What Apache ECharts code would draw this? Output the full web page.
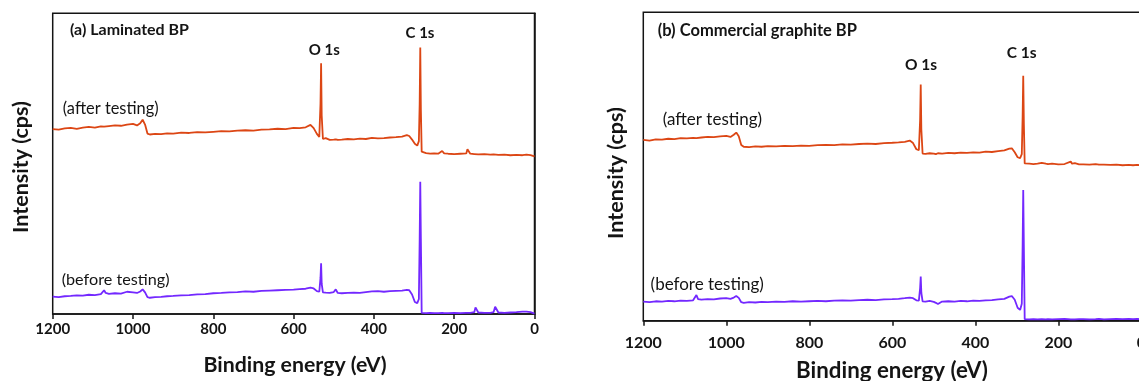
<!DOCTYPE html>
<html><head><meta charset="utf-8">
<script src="https://cdn.jsdelivr.net/npm/echarts@6/dist/echarts.min.js"></script>
<style>html,body{margin:0;padding:0;overflow:hidden;background:#fff}#c{width:1160px;height:395px}</style>
</head><body><div id="c"></div>
<script>
// Binding energy grid (eV), shared by all four spectra
const energy = [1200,1185,1170,1155,1140,1125,1110,1095,1080,1072,1068,1060,1045,1030,1015,1000,990,982,976,970,964,958,945,930,915,900,880,860,840,820,800,780,760,740,720,700,680,660,640,620,600,585,570,558,550,542,536,533,531.5,530,527,520,510,500,495,490,480,465,450,435,420,405,390,375,360,345,330,318,312,305,298,292,288,286,284.5,283,281,278,270,260,250,240,230,225,215,200,185,170,167,160,150,147,140,125,110,102,98,90,75,60,45,30,20,10,0];

// (a) Laminated BP — intensity (arbitrary, stacked offsets)
const aAfter = [61.5,61.3,61.7,61.9,61.6,62.0,62.2,62.0,62.4,62.3,62.6,62.5,62.7,62.6,63.0,63.2,62.7,63.4,64.6,63.0,60.0,59.7,59.9,59.8,60.1,60.0,60.3,60.2,60.5,60.4,60.6,60.8,60.7,61.0,61.1,61.0,61.3,61.4,61.6,61.5,61.9,61.8,62.1,62.9,61.8,59.9,58.9,70.0,83.4,66.0,58.2,58.5,57.9,58.0,58.1,57.9,58.0,58.2,58.1,58.3,58.2,58.6,58.4,58.5,58.7,58.8,59.0,59.5,59.2,58.0,56.6,56.0,57.5,70.0,88.6,68.0,54.0,53.4,53.5,53.3,53.4,53.3,54.2,53.4,53.3,53.2,53.3,53.4,54.8,53.3,53.2,53.3,53.1,53.2,53.0,53.1,53.0,52.9,53.0,52.8,52.9,52.8,53.0,52.8,52.4];
const aBefore = [5.8,5.6,5.9,6.0,6.2,6.1,6.4,6.3,6.6,7.9,7.0,6.7,6.9,6.8,7.4,7.2,7.0,7.5,8.2,7.2,5.6,5.4,5.6,5.7,5.9,6.0,6.2,6.3,6.5,6.6,6.9,7.0,7.2,7.3,7.5,7.4,7.7,7.8,7.9,8.0,8.1,8.3,8.4,8.8,8.5,7.6,7.4,12.0,16.9,10.0,7.2,7.1,7.0,7.3,8.2,7.0,6.9,7.0,7.1,7.0,7.3,7.5,7.6,7.4,7.6,7.7,7.8,8.0,7.9,6.5,4.0,3.6,5.0,25.0,44.0,25.0,0.4,0.3,0.3,0.4,0.3,0.3,0.4,0.3,0.3,0.4,0.3,0.4,0.3,0.4,0.6,2.2,0.5,0.4,0.4,0.6,2.4,0.5,0.4,0.5,0.6,0.8,0.8,0.6,0.1];

// (b) Commercial graphite BP
const bAfter = [58.6,58.4,58.8,58.7,59.0,58.9,59.2,59.1,59.3,59.2,59.5,59.4,59.6,59.5,59.8,59.9,59.6,60.3,61.0,59.8,57.0,56.4,56.3,56.5,56.4,56.6,56.5,56.7,56.6,56.8,56.7,56.9,57.0,56.9,57.2,57.1,57.3,57.4,57.3,57.6,57.7,57.8,58.0,58.4,57.6,55.6,55.3,65.0,76.6,62.0,54.2,54.1,54.3,54.2,54.0,54.3,54.2,54.4,54.3,54.5,54.4,54.6,54.5,54.8,54.7,55.0,55.2,55.8,55.9,54.6,53.0,52.7,54.0,66.0,79.4,64.0,51.0,50.8,50.9,50.8,50.9,51.2,50.9,50.8,50.9,50.7,50.8,51.6,50.9,51.1,50.7,50.8,50.7,50.6,50.8,50.6,50.5,50.6,50.5,50.6,50.4,50.5,50.4,50.5,50.4];
const bBefore = [6.2,6.0,6.3,6.2,6.4,6.3,6.5,6.4,6.6,8.3,7.0,6.8,7.0,6.9,7.2,7.3,7.1,7.5,8.0,7.4,6.0,5.8,6.0,5.9,6.1,6.0,6.2,6.1,6.3,6.2,6.3,6.4,6.3,6.5,6.6,6.5,6.7,6.8,6.7,6.9,7.0,7.1,7.3,7.5,7.3,6.6,6.5,10.5,14.3,9.0,6.3,6.2,6.4,6.1,5.8,5.4,6.2,6.3,6.2,6.4,6.3,6.5,6.4,6.6,6.7,6.9,7.1,7.8,8.0,6.8,4.2,3.5,5.5,24.0,42.4,24.0,0.5,0.4,0.4,0.5,0.4,0.5,0.4,0.5,0.4,0.5,0.6,0.4,0.5,0.4,0.5,0.4,0.5,0.4,0.5,0.6,0.5,0.4,0.5,0.6,0.5,0.6,0.5,0.6,0.5];

const xTickStep = 200;
const RED = '#dc4614', PURPLE = '#7328ff', INK = '#141414';
const FONT = 'Lato, "Open Sans", sans-serif';

const pairs = v => energy.map((e, i) => [e, v[i]]);

function xAxisCfg(idx, fs, margin) {
  return {
    type: 'value', gridIndex: idx, min: 0, max: 1200, interval: xTickStep, inverse: true,
    axisLine: { show: true, onZero: false, lineStyle: { color: INK, width: 1.5 } },
    axisTick: { show: true, inside: false, length: 5, lineStyle: { color: INK, width: 1.5 } },
    axisLabel: { color: INK, fontWeight: 'bold', fontSize: fs, fontFamily: FONT, margin: margin,
      formatter: v => String(v) },
    splitLine: { show: false }
  };
}
function yAxisCfg(idx) {
  return {
    type: 'value', gridIndex: idx, min: 0, max: 100,
    axisLine: { show: true, lineStyle: { color: INK, width: 1.5 } },
    axisTick: { show: false }, axisLabel: { show: false }, splitLine: { show: false }
  };
}
function line(v, color, idx) {
  return { type: 'line', data: pairs(v), xAxisIndex: idx, yAxisIndex: idx, showSymbol: false,
    symbol: 'none', lineStyle: { color: color, width: 1.8 }, itemStyle: { color: color },
    animation: false, silent: true };
}
function txt(s, x, y, fs, fw) {
  return { type: 'text', x: x, y: y, silent: true,
    style: { text: s, fill: INK, fontSize: fs, fontWeight: fw, fontFamily: FONT,
      textAlign: 'left', textVerticalAlign: 'middle', align: 'left', verticalAlign: 'middle' } };
}
function ctxt(s, x, y, fs, fw, rot) {
  return { type: 'text', x: x, y: y, rotation: rot || 0, silent: true,
    style: { text: s, fill: INK, fontSize: fs, fontWeight: fw, fontFamily: FONT,
      textAlign: 'center', textVerticalAlign: 'middle', align: 'center', verticalAlign: 'middle' } };
}

const chart = echarts.init(document.getElementById('c'), null, { renderer: 'canvas' });
chart.setOption({
  animation: false,
  backgroundColor: '#fff',
  grid: [
    { left: 52.7, top: 13.3, width: 481.8, height: 300.7, show: true, borderColor: INK, borderWidth: 1.5, containLabel: false },
    { left: 643.3, top: 12.3, width: 498, height: 308.4, show: true, borderColor: INK, borderWidth: 1.5, containLabel: false }
  ],
  xAxis: [xAxisCfg(0, 15, 8), xAxisCfg(1, 16, 14)],
  yAxis: [yAxisCfg(0), yAxisCfg(1)],
  series: [line(aAfter, RED, 0), line(aBefore, PURPLE, 0), line(bAfter, RED, 1), line(bBefore, PURPLE, 1)],
  graphic: [
    txt('(a) Laminated BP', 70, 30, 16, 'bold'),
    txt('O 1s', 308.7, 50, 15, 'bold'),
    txt('C 1s', 405.6, 33.3, 15, 'bold'),
    txt('(after testing)', 62.8, 108.3, 16.4, 'normal'),
    txt('(before testing)', 61.7, 279.3, 16.2, 'normal'),
    ctxt('Intensity (cps)', 21.5, 167, 21.5, 'bold', Math.PI / 2),
    ctxt('Binding energy (eV)', 295, 365, 21.3, 'bold'),
    txt('(b) Commercial graphite BP', 657.7, 30.7, 16.5, 'bold'),
    txt('O 1s', 905, 65, 15.5, 'bold'),
    txt('C 1s', 1006.7, 53.3, 15.5, 'bold'),
    txt('(after testing)', 662.7, 119.3, 17, 'normal'),
    txt('(before testing)', 650.6, 285, 17, 'normal'),
    ctxt('Intensity (cps)', 615.6, 173, 21.5, 'bold', Math.PI / 2),
    ctxt('Binding energy (eV)', 892, 371, 22.3, 'bold')
  ]
});
</script></body></html>
